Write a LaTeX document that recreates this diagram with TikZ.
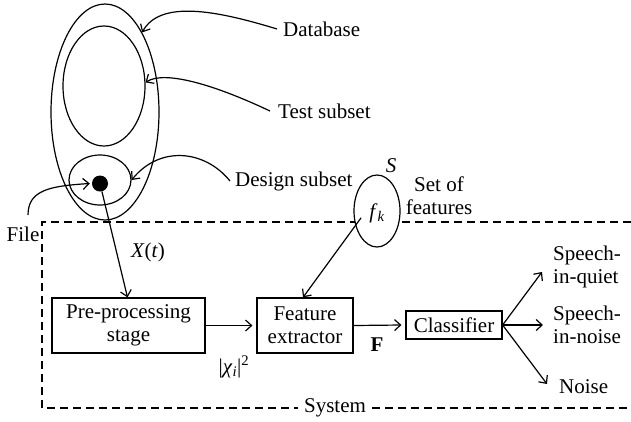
\documentclass[tikz,border=0pt]{standalone}
\usepackage{fontspec}
\setmainfont{Liberation Serif}
\usetikzlibrary{shapes.geometric,arrows.meta}
\begin{document}
\begin{tikzpicture}[x=1pt,y=-1pt,
  every node/.style={font=\fontsize{21}{23}\selectfont},
  line/.style={line width=1.2pt},
  arr/.style={line, -{Straight Barb[length=6pt,width=11pt]}},
  oval/.style={ellipse, draw, line width=1.2pt, inner sep=0pt},
  blockbox/.style={draw, line width=1.2pt, align=center, inner sep=0pt},
  lbl/.style={inner sep=0pt, anchor=west},
  sysframe/.style={line width=1.2pt, dash pattern=on 8pt off 5pt}]
\useasboundingbox (0,0) rectangle (631,421);

% system frame (open on the right)
\draw[sysframe] (631,222) -- (42,222) -- (42,408) -- (631,408);
\node[fill=white, inner xsep=6pt, inner ysep=2pt] (sys) at (335,408) {System};

% database and its subsets
\node[oval, minimum width=108, minimum height=216] (db) at (105,112) {};
\node[oval, minimum width=82, minimum height=120] (tst) at (104,86) {};
\node[oval, minimum width=62, minimum height=50] (dsg) at (100,180) {};
\node[circle, fill=black, minimum size=16pt, inner sep=0pt] (dot) at (100,183.5) {};

\node[lbl] (dbl) at (283,29) {Database};
\node[lbl] (tsl) at (278,111) {Test subset};
\node[lbl] (dsl) at (235,181) {Design subset};
\node[inner sep=0pt] (fl) at (23,234) {File};
\coordinate (fs) at (28,215);

\draw[arr] ([xshift=-6pt]dbl.west) .. controls (215,10) and (160,0) .. (db.65);
\draw[arr] ([xshift=-8pt]tsl.west) .. controls (215,85) and (165,70) .. (tst.5);
\draw[arr] ([xshift=-5pt]dsl.west) .. controls (205,150) and (160,145) .. (dsg.0);
\draw[arr] (fs) .. controls (28,190) and (50,186) .. ([xshift=-2pt]dot.west);

% feature set
\node[oval, fill=white, minimum width=46, minimum height=72] (set) at (377,211) {};
\node[inner sep=0pt] (fk) at (377,213) {\textit{f}\textsubscript{\textit{k}}};
\node[inner sep=0pt] (sl) at (391,166) {\textit{S}};
\node[align=center, inner sep=0pt] (sf) at (439,196) {Set of\\features};

% processing chain
\node[blockbox, minimum width=153, minimum height=55] (pre) at (128.5,325.5) {Pre-processing\\stage};
\node[blockbox, minimum width=96, minimum height=55] (feat) at (305,325.5) {Feature\\extractor};
\node[blockbox, minimum width=96, minimum height=28] (cls) at (454,325) {Classifier};

\node[inner sep=0pt] (xt) at (148,252) {\textit{X}(\textit{t})};
\node[inner sep=0pt] (chi) at (234,367) {|\textit{χ}\textsubscript{\textit{i}}|\textsuperscript{2}};
\node[inner sep=0pt] (fv) at (377,345) {\textbf{F}};

\draw[arr] (dot) -- ([xshift=-1pt]pre.north);
\draw[arr] ([shift={(-8pt,5pt)}]fk.south west) -- ([xshift=-2pt]feat.north);
\draw[arr] (pre.east) -- ([xshift=-4pt]feat.west);
\draw[arr] (feat.east) -- ([xshift=-4pt]cls.west);

% outputs
\node[lbl, align=left] (sq) at (553,267) {Speech-\\in-quiet};
\node[lbl, align=left] (sn) at (553,325) {Speech-\\in-noise};
\node[lbl] (ns) at (559,387) {Noise};
\draw[arr] (cls.east) -- ([shift={(-11pt,-5pt)}]sq.west);
\draw[arr] (cls.east) -- ([shift={(-10pt,0pt)}]sn.west);
\draw[arr] (cls.east) -- ([shift={(-12pt,3pt)}]ns.west);
\end{tikzpicture}
\end{document}
